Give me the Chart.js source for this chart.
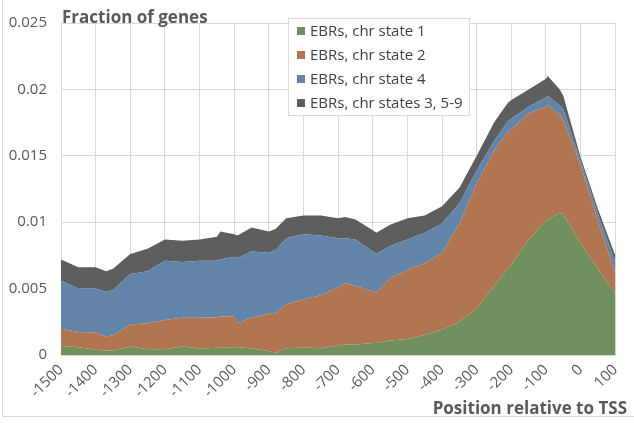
<!DOCTYPE html>
<html>
<head>
<meta charset="utf-8">
<script src="https://cdn.jsdelivr.net/npm/chart.js@4/dist/chart.umd.min.js"></script>
<style>
  body { margin: 0; background: #fff; }
  #wrap { width: 634px; height: 423px; position: relative; }
</style>
</head>
<body>
<div id="wrap"><canvas id="chart" width="634" height="423"></canvas></div>
<script>
// position relative to TSS
var positions = [-1500, -1450, -1400, -1370, -1350, -1300, -1250, -1200, -1150, -1100,
                 -1050, -1040, -1000, -990, -950, -900, -880, -850, -800, -750,
                 -700, -680, -650, -600, -590, -550, -500, -450, -400, -350,
                 -300, -250, -210, -200, -150, -100, -95, -60, -50, 0,
                 50, 100];

// fraction of genes per chromatin state (stacked on top of each other)
var state1 = [0.00068, 0.00059, 0.00039, 0.00034, 0.00034, 0.00064, 0.00044, 0.00044, 0.00064, 0.00049,
              0.00054, 0.00055, 0.00059, 0.0006, 0.00049, 0.0003, 0.00015, 0.00051, 0.00056, 0.0005,
              0.0007, 0.0008, 0.0008, 0.0009, 0.0009, 0.0011, 0.0012, 0.0015, 0.0019, 0.0025,
              0.0035, 0.0052, 0.0065, 0.0068, 0.0087, 0.0101, 0.0102, 0.0107, 0.0106, 0.0084,
              0.0065, 0.0046];
var state2 = [0.0013, 0.00115, 0.0013, 0.00106, 0.00115, 0.00166, 0.00196, 0.0022, 0.00216, 0.00231,
              0.0023, 0.00235, 0.00231, 0.0018, 0.00231, 0.0028, 0.00305, 0.00329, 0.00364, 0.004,
              0.0044, 0.0046, 0.0044, 0.0039, 0.0038, 0.0047, 0.0052, 0.0054, 0.0058, 0.0074,
              0.0094, 0.0102, 0.0103, 0.0102, 0.0095, 0.0086, 0.0086, 0.0074, 0.0071, 0.0059,
              0.0036, 0.0016];
var state4 = [0.00362, 0.00326, 0.00331, 0.00334, 0.00341, 0.0038, 0.0039, 0.00446, 0.0042, 0.0043,
              0.00426, 0.0043, 0.0045, 0.0049, 0.005, 0.0046, 0.0047, 0.005, 0.0049, 0.0045,
              0.0037, 0.0034, 0.0035, 0.003, 0.0029, 0.0024, 0.0023, 0.0023, 0.0022, 0.0015,
              0.001, 0.0007, 0.0008, 0.0008, 0.0005, 0.0007, 0.0007, 0.0007, 0.0008, 0.0003,
              0.0005, 0.0008];
var stateOther = [0.0016, 0.0016, 0.0016, 0.00156, 0.0016, 0.0015, 0.0017, 0.0016, 0.0016, 0.0016,
                  0.0018, 0.0021, 0.0017, 0.0017, 0.0018, 0.0016, 0.0016, 0.0015, 0.0014, 0.0015,
                  0.0015, 0.0016, 0.0015, 0.0016, 0.0016, 0.0016, 0.0016, 0.0013, 0.0013, 0.0012,
                  0.0011, 0.0014, 0.0014, 0.0014, 0.0013, 0.0014, 0.0015, 0.0012, 0.0010, 0.0003,
                  0.0004, 0.0005];

var seriesNames = ['EBRs, chr state 1', 'EBRs, chr state 2', 'EBRs, chr state 4', 'EBRs, chr states 3, 5-9'];
var seriesColors = ['#71905e', '#b27552', '#6284a8', '#5e5e5e'];

var xTickLabels = ['-1500', '-1400', '-1300', '-1200', '-1100', '-1000', '-900', '-800', '-700', '-600', '-500', '-400', '-300', '-200', '-100', '0', '100'];
var yTickLabels = ['0', '0.005', '0.01', '0.015', '0.02', '0.025'];

var textColor = '#595959';
var gridColor = '#d9d9d9';

Chart.defaults.font.family = '"Open Sans", sans-serif';

function toPoints(values){
    return positions.map(function(x, i){ return {x: x, y: values[i]}; });
}

var allSeries = [state1, state2, state4, stateOther];
var datasets = allSeries.map(function(values, i){
    return {
        label: seriesNames[i],
        data: toPoints(values),
        backgroundColor: seriesColors[i],
        borderWidth: 0,
        pointRadius: 0,
        tension: 0,
        fill: i == 0 ? 'origin' : '-1'
    };
});

// axis titles, legend box and chart frame
var decorations = {
    id: 'decorations',
    afterDraw: function(chart){
        var ctx = chart.ctx;
        ctx.save();

        ctx.strokeStyle = gridColor;
        ctx.lineWidth = 1;
        ctx.beginPath();
        ctx.moveTo(2.5, 0);
        ctx.lineTo(2.5, 416.5);
        ctx.lineTo(634, 416.5);
        ctx.stroke();

        ctx.fillStyle = textColor;
        ctx.font = 'bold 17px "Open Sans", sans-serif';
        ctx.textBaseline = 'alphabetic';
        ctx.textAlign = 'left';
        ctx.fillText('Fraction of genes', 62, 23);
        ctx.textAlign = 'right';
        ctx.fillText('Position relative to TSS', 627, 414);

        // legend
        ctx.fillStyle = '#fff';
        ctx.fillRect(288.5, 18.5, 181, 97);
        ctx.strokeStyle = gridColor;
        ctx.strokeRect(288.5, 18.5, 181, 97);
        ctx.font = '15px "Open Sans", sans-serif';
        ctx.textAlign = 'left';
        ctx.textBaseline = 'middle';
        chart.data.datasets.forEach(function(ds, i){
            var y = 31 + i * 24;
            ctx.fillStyle = ds.backgroundColor;
            ctx.fillRect(297, y - 4, 8, 8);
            ctx.fillStyle = '#404040';
            ctx.fillText(ds.label, 310, y + 1);
        });
        ctx.restore();
    }
};

var chart = new Chart(document.getElementById('chart'), {
    type: 'line',
    data: { datasets: datasets },
    options: {
        responsive: false,
        animation: false,
        layout: { padding: { left: 0, right: 10, top: 14, bottom: 0 } },
        plugins: {
            legend: { display: false },
            tooltip: { enabled: false }
        },
        scales: {
            x: {
                type: 'linear',
                min: -1500,
                max: 100,
                grid: { color: gridColor, drawTicks: false },
                border: { color: gridColor },
                ticks: {
                    stepSize: 100,
                    autoSkip: false,
                    maxRotation: 45,
                    minRotation: 45,
                    padding: 6,
                    color: textColor,
                    font: { size: 15 },
                    callback: function(value, index){ return xTickLabels[index]; }
                },
                afterFit: function(scale){ scale.height = 68; }
            },
            y: {
                stacked: true,
                min: 0,
                max: 0.025,
                grid: { color: gridColor, drawTicks: false },
                border: { display: false },
                ticks: {
                    stepSize: 0.005,
                    padding: 14,
                    color: textColor,
                    font: { size: 15 },
                    callback: function(value, index){ return yTickLabels[index]; }
                },
                afterFit: function(scale){ scale.width = 61; }
            }
        }
    },
    plugins: [decorations]
});
</script>
</body>
</html>
